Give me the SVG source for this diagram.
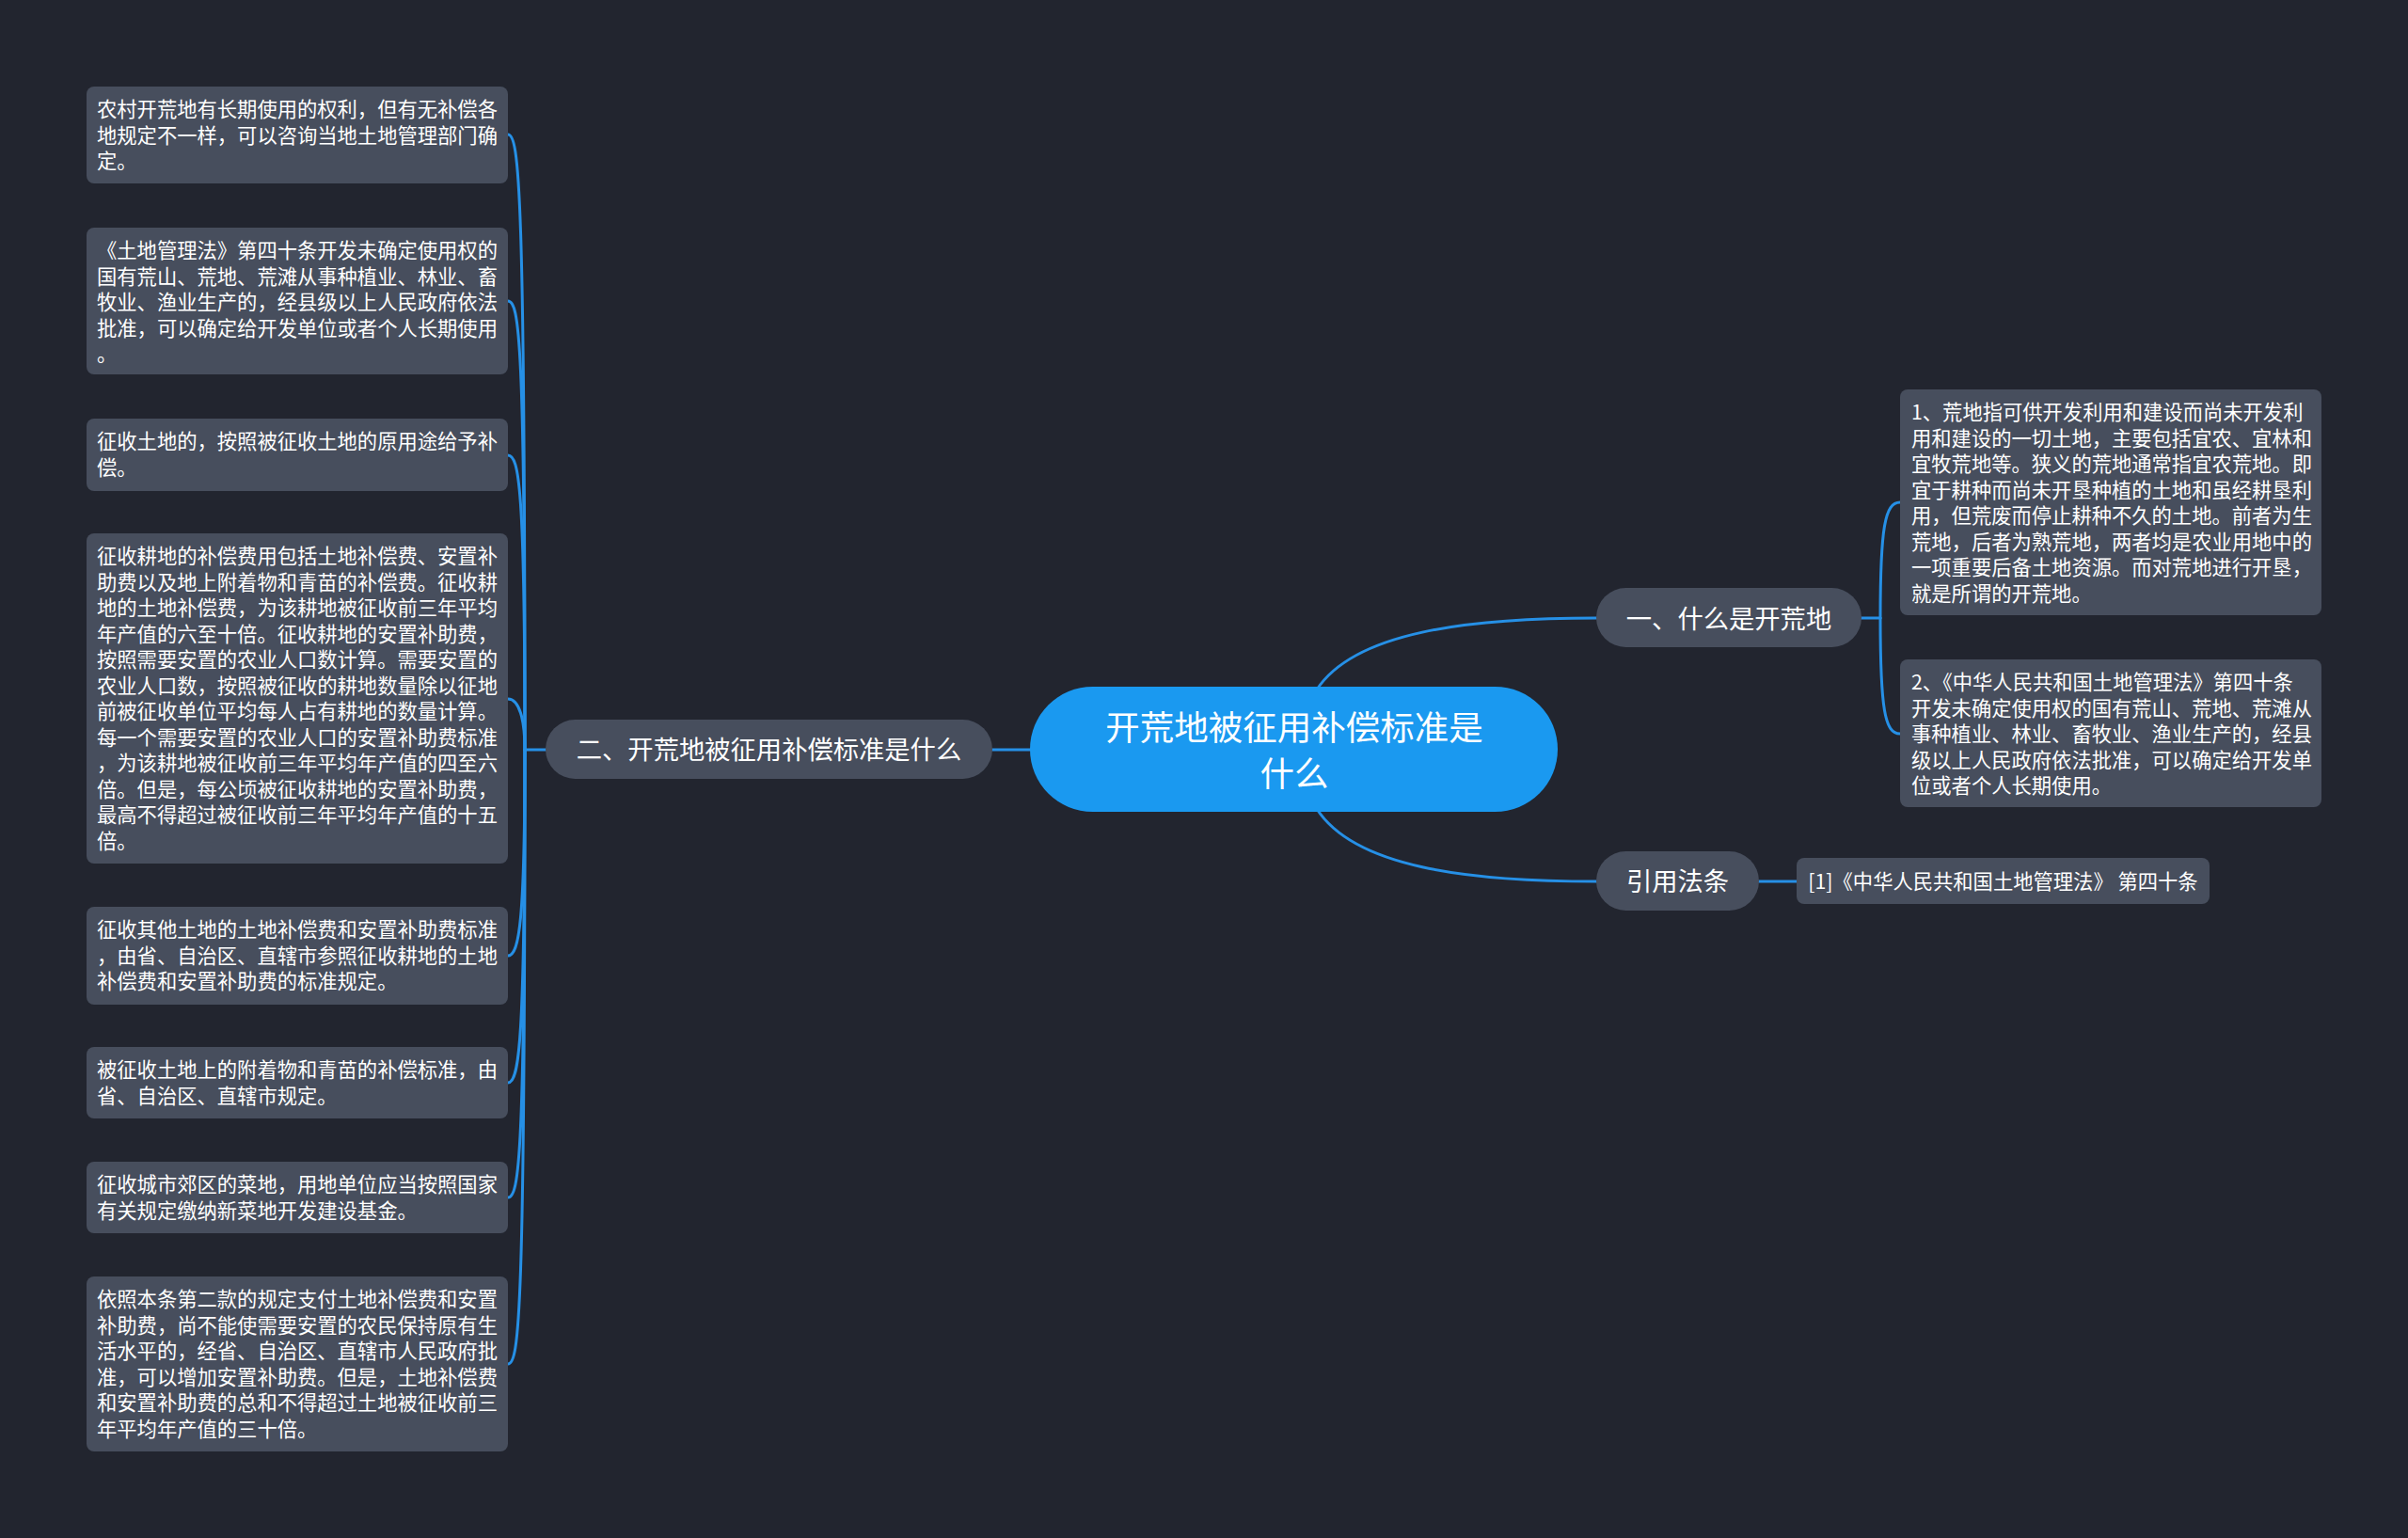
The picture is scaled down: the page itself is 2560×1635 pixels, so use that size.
<svg xmlns="http://www.w3.org/2000/svg" width="2560" height="1635" viewBox="0 0 2560 1635">
<style>
.bg{fill:#22252f}
.leaf{fill:#474e5d}
.branch{fill:#474e5d}
.root{fill:#1a99f0}
.t{font-family:"Noto Sans CJK SC","Noto Sans",sans-serif;fill:#ffffff}
.lt{font-size:21.3px}
.bt{font-size:27.3px;text-anchor:middle}
.rt{font-size:36.5px;text-anchor:middle}
.c{fill:none;stroke:#2690e6;stroke-width:3;stroke-linecap:round}
</style>
<rect class="bg" x="0" y="0" width="2560" height="1635"/>
<g id="connectors">
<path class="c" d="M1400,733 C1440,672 1560,657 1697,657"/>
<path class="c" d="M1400,860 C1440,922 1560,937 1697,937"/>
<path class="c" d="M1095,797 L1055,797"/>
<path class="c" d="M1979,657 L1999,657"/>
<path class="c" d="M1999,657 C1999,560 2004,534 2020,534"/>
<path class="c" d="M1999,657 C1999,755 2004,780 2020,780"/>
<path class="c" d="M1870,937 L1910,937"/>
<path class="c" d="M580,797 L558,797"/>
<path class="c" d="M558,797 C558,200 552,143 540,143"/>
<path class="c" d="M558,797 C558,360 552,320 540,320"/>
<path class="c" d="M558,797 C558,520 552,484 540,484"/>
<path class="c" d="M558,797 C558,765 552,743 540,743"/>
<path class="c" d="M558,797 C558,980 552,1016 540,1016"/>
<path class="c" d="M558,797 C558,1110 552,1151 540,1151"/>
<path class="c" d="M558,797 C558,1230 552,1273 540,1273"/>
<path class="c" d="M558,797 C558,1400 552,1450 540,1450"/>
</g>
<g id="root">
<rect class="root" x="1095" y="730" width="561" height="133" rx="66.5"/>
<text class="t rt" x="1376" y="787">开荒地被征用补偿标准是</text>
<text class="t rt" x="1376" y="836">什么</text>
</g>
<g id="branch-left">
<rect class="branch" x="580" y="765" width="475" height="63" rx="31.5"/>
<text class="t bt" x="817.5" y="807">二、开荒地被征用补偿标准是什么</text>
</g>
<g id="branch-right1">
<rect class="branch" x="1697" y="625" width="282" height="63" rx="31.5"/>
<text class="t bt" x="1838" y="668">一、什么是开荒地</text>
</g>
<g id="branch-right2">
<rect class="branch" x="1697" y="905" width="173" height="63" rx="31.5"/>
<text class="t bt" x="1783.5" y="947">引用法条</text>
</g>
<g id="cite">
<rect class="leaf" x="1910" y="912" width="439" height="49" rx="8"/>
<text class="t lt" x="2129.5" y="945" text-anchor="middle">[1]《中华人民共和国土地管理法》 第四十条</text>
</g>
<g id="leaf-r1">
<rect class="leaf" x="2020" y="414" width="448" height="240" rx="8"/>
<text class="t lt" x="2032" y="446">
<tspan x="2032" dy="0">1、荒地指可供开发利用和建设而尚未开发利</tspan>
<tspan x="2032" dy="27.5">用和建设的一切土地，主要包括宜农、宜林和</tspan>
<tspan x="2032" dy="27.5">宜牧荒地等。狭义的荒地通常指宜农荒地。即</tspan>
<tspan x="2032" dy="27.5">宜于耕种而尚未开垦种植的土地和虽经耕垦利</tspan>
<tspan x="2032" dy="27.5">用，但荒废而停止耕种不久的土地。前者为生</tspan>
<tspan x="2032" dy="27.5">荒地，后者为熟荒地，两者均是农业用地中的</tspan>
<tspan x="2032" dy="27.5">一项重要后备土地资源。而对荒地进行开垦，</tspan>
<tspan x="2032" dy="27.5">就是所谓的开荒地。</tspan>
</text>
</g>
<g id="leaf-r2">
<rect class="leaf" x="2020" y="701" width="448" height="157" rx="8"/>
<text class="t lt" x="2032" y="733">
<tspan x="2032" dy="0">2、《中华人民共和国土地管理法》第四十条</tspan>
<tspan x="2032" dy="27.5">开发未确定使用权的国有荒山、荒地、荒滩从</tspan>
<tspan x="2032" dy="27.5">事种植业、林业、畜牧业、渔业生产的，经县</tspan>
<tspan x="2032" dy="27.5">级以上人民政府依法批准，可以确定给开发单</tspan>
<tspan x="2032" dy="27.5">位或者个人长期使用。</tspan>
</text>
</g>
<g id="leaf-l1">
<rect class="leaf" x="92" y="92" width="448" height="103" rx="8"/>
<text class="t lt" x="103" y="124">
<tspan x="103" dy="0">农村开荒地有长期使用的权利，但有无补偿各</tspan>
<tspan x="103" dy="27.5">地规定不一样，可以咨询当地土地管理部门确</tspan>
<tspan x="103" dy="27.5">定。</tspan>
</text>
</g>
<g id="leaf-l2">
<rect class="leaf" x="92" y="242" width="448" height="156" rx="8"/>
<text class="t lt" x="103" y="274">
<tspan x="103" dy="0">《土地管理法》第四十条开发未确定使用权的</tspan>
<tspan x="103" dy="27.5">国有荒山、荒地、荒滩从事种植业、林业、畜</tspan>
<tspan x="103" dy="27.5">牧业、渔业生产的，经县级以上人民政府依法</tspan>
<tspan x="103" dy="27.5">批准，可以确定给开发单位或者个人长期使用</tspan>
<tspan x="103" dy="27.5">。</tspan>
</text>
</g>
<g id="leaf-l3">
<rect class="leaf" x="92" y="445" width="448" height="77" rx="8"/>
<text class="t lt" x="103" y="477">
<tspan x="103" dy="0">征收土地的，按照被征收土地的原用途给予补</tspan>
<tspan x="103" dy="27.5">偿。</tspan>
</text>
</g>
<g id="leaf-l4">
<rect class="leaf" x="92" y="567" width="448" height="351" rx="8"/>
<text class="t lt" x="103" y="599">
<tspan x="103" dy="0">征收耕地的补偿费用包括土地补偿费、安置补</tspan>
<tspan x="103" dy="27.5">助费以及地上附着物和青苗的补偿费。征收耕</tspan>
<tspan x="103" dy="27.5">地的土地补偿费，为该耕地被征收前三年平均</tspan>
<tspan x="103" dy="27.5">年产值的六至十倍。征收耕地的安置补助费，</tspan>
<tspan x="103" dy="27.5">按照需要安置的农业人口数计算。需要安置的</tspan>
<tspan x="103" dy="27.5">农业人口数，按照被征收的耕地数量除以征地</tspan>
<tspan x="103" dy="27.5">前被征收单位平均每人占有耕地的数量计算。</tspan>
<tspan x="103" dy="27.5">每一个需要安置的农业人口的安置补助费标准</tspan>
<tspan x="103" dy="27.5">，为该耕地被征收前三年平均年产值的四至六</tspan>
<tspan x="103" dy="27.5">倍。但是，每公顷被征收耕地的安置补助费，</tspan>
<tspan x="103" dy="27.5">最高不得超过被征收前三年平均年产值的十五</tspan>
<tspan x="103" dy="27.5">倍。</tspan>
</text>
</g>
<g id="leaf-l5">
<rect class="leaf" x="92" y="964" width="448" height="104" rx="8"/>
<text class="t lt" x="103" y="996">
<tspan x="103" dy="0">征收其他土地的土地补偿费和安置补助费标准</tspan>
<tspan x="103" dy="27.5">，由省、自治区、直辖市参照征收耕地的土地</tspan>
<tspan x="103" dy="27.5">补偿费和安置补助费的标准规定。</tspan>
</text>
</g>
<g id="leaf-l6">
<rect class="leaf" x="92" y="1113" width="448" height="76" rx="8"/>
<text class="t lt" x="103" y="1145">
<tspan x="103" dy="0">被征收土地上的附着物和青苗的补偿标准，由</tspan>
<tspan x="103" dy="27.5">省、自治区、直辖市规定。</tspan>
</text>
</g>
<g id="leaf-l7">
<rect class="leaf" x="92" y="1235" width="448" height="76" rx="8"/>
<text class="t lt" x="103" y="1267">
<tspan x="103" dy="0">征收城市郊区的菜地，用地单位应当按照国家</tspan>
<tspan x="103" dy="27.5">有关规定缴纳新菜地开发建设基金。</tspan>
</text>
</g>
<g id="leaf-l8">
<rect class="leaf" x="92" y="1357" width="448" height="186" rx="8"/>
<text class="t lt" x="103" y="1389">
<tspan x="103" dy="0">依照本条第二款的规定支付土地补偿费和安置</tspan>
<tspan x="103" dy="27.5">补助费，尚不能使需要安置的农民保持原有生</tspan>
<tspan x="103" dy="27.5">活水平的，经省、自治区、直辖市人民政府批</tspan>
<tspan x="103" dy="27.5">准，可以增加安置补助费。但是，土地补偿费</tspan>
<tspan x="103" dy="27.5">和安置补助费的总和不得超过土地被征收前三</tspan>
<tspan x="103" dy="27.5">年平均年产值的三十倍。</tspan>
</text>
</g>
</svg>
